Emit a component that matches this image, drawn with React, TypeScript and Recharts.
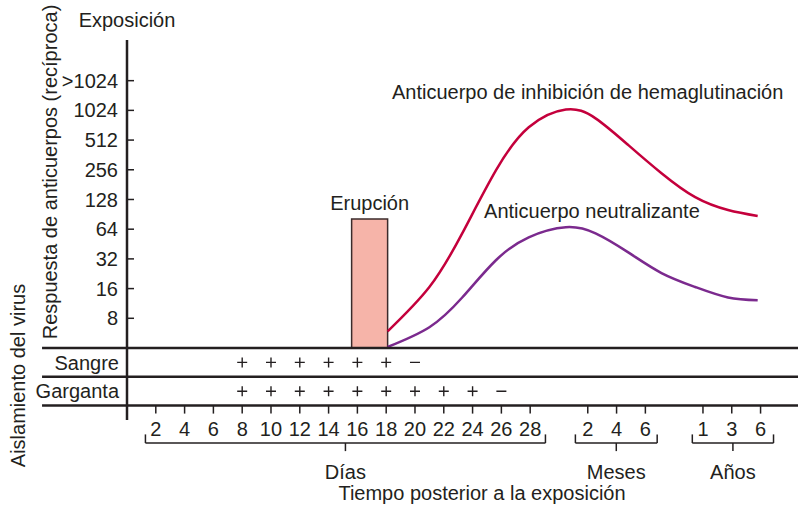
import React from "react";
import {
	ComposedChart,
	Line,
	ReferenceArea,
	ReferenceDot,
	ReferenceLine,
	Scatter,
	XAxis,
	YAxis,
} from "recharts";

const FONT = "'Liberation Sans', Arial, Helvetica, sans-serif";
const INK = "#231f20";

// x axis index: 1..14 = days 2..28, 16..18 = months 2/4/6, 20..22 = years 1/3/6
const tickPos = [1, 2, 3, 4, 5, 6, 7, 8, 9, 10, 11, 12, 13, 14, 16, 17, 18, 20, 21, 22];
const tickLabels = ["2", "4", "6", "8", "10", "12", "14", "16", "18", "20", "22", "24", "26", "28", "2", "4", "6", "1", "3", "6"];
const X_MAX = 23.3;

// titer ticks (reciprocal), log scale
const titerTicks = [8, 16, 32, 64, 128, 256, 512, 1024, 2048];
const titerLabels = ["8", "16", "32", "64", "128", "256", "512", "1024", ">1024"];

// antibody curves
const curveT = [9.05, 10.5, 11.64, 12.81, 13.95, 15.24, 16.27, 17.42, 18.56, 19.73, 20.87, 21.9];
const hemagglutinationTiter = [5.9, 16.6, 58, 252, 690, 1045, 850, 452, 236, 135, 100, 87];
const neutralizingTiter = [4.1, 6.5, 13, 31, 53, 67, 58, 37, 23, 16.6, 13, 12.2];

// rash
const rashFrom = 7.8;
const rashTo = 9.05;
const rashHeight = 81;

// virus isolation (days)
const rowNames = ["Sangre", "Garganta"];
const bloodPlusDays = [8, 10, 12, 14, 16, 18];
const bloodMinusDays = [20];
const throatPlusDays = [8, 10, 12, 14, 16, 18, 20, 22, 24];
const throatMinusDays = [26];

// time groups under the axis
const groupNames = ["Días", "Meses", "Años"];
const groupFrom = [0.64, 15.57, 19.63];
const groupTo = [14.53, 18.41, 22.45];

const curveData = curveT.map((t, i) => ({
	t,
	hi: hemagglutinationTiter[i],
	neut: neutralizingTiter[i],
}));

const marks = [
	...bloodPlusDays.map((d) => ({ t: d / 2, row: 0.5, sign: "+" })),
	...bloodMinusDays.map((d) => ({ t: d / 2, row: 0.5, sign: "-" })),
	...throatPlusDays.map((d) => ({ t: d / 2, row: 1.5, sign: "+" })),
	...throatMinusDays.map((d) => ({ t: d / 2, row: 1.5, sign: "-" })),
];

const xLabel = (v: number) => tickLabels[tickPos.indexOf(v)] ?? "";
const yLabel = (v: number) => titerLabels[titerTicks.indexOf(v)] ?? "";

const SignMark = (props: any) => {
	const { cx, cy, payload } = props;
	const d =
		payload.sign === "+"
			? `M${cx - 5},${cy}h10M${cx},${cy - 5}v10`
			: `M${cx - 5},${cy}h10`;
	return <path d={d} stroke={INK} strokeWidth={1.4} fill="none" />;
};

const textStyle = { fontSize: 20, fill: INK, fontFamily: FONT };

export default function App() {
	return (
		<div style={{ position: "absolute", left: 0, top: 0, width: 798, height: 509, background: "#fff" }}>
			<div style={{ position: "absolute", left: 0, top: 0 }}>
				<ComposedChart
					width={798}
					height={350}
					data={curveData}
					margin={{ top: 40, right: 0, bottom: 2, left: 0 }}
				>
					<XAxis dataKey="t" type="number" domain={[0, X_MAX]} allowDataOverflow hide />
					<YAxis
						type="number"
						scale="log"
						domain={[4, 5290]}
						allowDataOverflow
						ticks={titerTicks}
						tickFormatter={yLabel}
						interval={0}
						width={127}
						axisLine={{ stroke: INK, strokeWidth: 2.5 }}
						tickLine={{ stroke: INK, strokeWidth: 1.5 }}
						tickSize={-7}
						tickMargin={16}
						tick={textStyle}
						label={{
							value: "Respuesta de anticuerpos (recíproca)",
							angle: -90,
							position: "center",
							dx: -13.5,
							dy: -22,
							...textStyle,
						}}
					/>
					<ReferenceArea
						x1={rashFrom}
						x2={rashTo}
						y1={4}
						y2={rashHeight}
						fill="#f6b4a9"
						fillOpacity={1}
						stroke="#3b2b2b"
						strokeWidth={1.5}
						label={{ value: "Erupción", position: "top", offset: 9, ...textStyle }}
					/>
					<Line
						type="natural"
						dataKey="hi"
						stroke="#c4003c"
						strokeWidth={2.5}
						dot={false}
						isAnimationActive={false}
					/>
					<Line
						type="natural"
						dataKey="neut"
						stroke="#7b2a8e"
						strokeWidth={2.5}
						dot={false}
						isAnimationActive={false}
					/>
					<ReferenceDot
						x={0}
						y={5290}
						r={0}
						fill="none"
						stroke="none"
						ifOverflow="visible"
						label={{ value: "Exposición", position: "top", offset: 13.5, ...textStyle }}
					/>
					<ReferenceDot
						x={9.2}
						y={1574}
						r={0}
						fill="none"
						stroke="none"
						ifOverflow="visible"
						label={{ value: "Anticuerpo de inhibición de hemaglutinación", position: "right", offset: 0, ...textStyle }}
					/>
					<ReferenceDot
						x={12.4}
						y={97}
						r={0}
						fill="none"
						stroke="none"
						ifOverflow="visible"
						label={{ value: "Anticuerpo neutralizante", position: "right", offset: 0, ...textStyle }}
					/>
				</ComposedChart>
			</div>
			<div style={{ position: "absolute", left: 0, top: 260 }}>
				<ComposedChart width={798} height={249} margin={{ top: 88, right: 0, bottom: 0, left: 0 }}>
					<XAxis
						dataKey="t"
						type="number"
						domain={[0, X_MAX]}
						allowDataOverflow
						ticks={tickPos}
						tickFormatter={xLabel}
						interval={0}
						height={103.4}
						axisLine={false}
						tickLine={{ stroke: INK, strokeWidth: 1.5 }}
						tickSize={8}
						tickMargin={8}
						tick={textStyle}
						label={{
							value: "Tiempo posterior a la exposición",
							position: "insideBottom",
							offset: 9,
							dx: 19.5,
							...textStyle,
						}}
					/>
					<YAxis
						dataKey="row"
						type="number"
						domain={[0, 2]}
						reversed
						allowDataOverflow
						ticks={[0.5, 1.5]}
						tickFormatter={(v: number) => rowNames[Math.floor(v)]}
						interval={0}
						width={127}
						axisLine={false}
						tickLine={false}
						tickMargin={2}
						tick={textStyle}
						label={{
							value: "Aislamiento del virus",
							angle: -90,
							position: "center",
							dx: -46,
							dy: -1.3,
							...textStyle,
						}}
					/>
					{[0, 1, 2].map((y) => (
						<ReferenceLine
							key={`h${y}`}
							segment={[{ x: -2.95, y }, { x: X_MAX, y }]}
							stroke={INK}
							strokeWidth={2.5}
							ifOverflow="visible"
						/>
					))}
					<ReferenceLine
						segment={[{ x: 0, y: 0 }, { x: 0, y: 2.5 }]}
						stroke={INK}
						strokeWidth={2.5}
						ifOverflow="visible"
					/>
					{groupNames.map((name, i) => {
						const mid = (groupFrom[i] + groupTo[i]) / 2;
						return (
							<React.Fragment key={name}>
								<ReferenceLine
									segment={[{ x: groupFrom[i], y: 3.3 }, { x: groupTo[i], y: 3.3 }]}
									stroke={INK}
									strokeWidth={1.5}
									ifOverflow="visible"
								/>
								<ReferenceLine
									segment={[{ x: groupFrom[i], y: 3.0 }, { x: groupFrom[i], y: 3.3 }]}
									stroke={INK}
									strokeWidth={1.5}
									ifOverflow="visible"
								/>
								<ReferenceLine
									segment={[{ x: groupTo[i], y: 3.0 }, { x: groupTo[i], y: 3.3 }]}
									stroke={INK}
									strokeWidth={1.5}
									ifOverflow="visible"
								/>
								<ReferenceLine
									segment={[{ x: mid, y: 3.3 }, { x: mid, y: 3.58 }]}
									stroke={INK}
									strokeWidth={1.5}
									ifOverflow="visible"
									label={{ value: name, position: "bottom", offset: 14, ...textStyle }}
								/>
							</React.Fragment>
						);
					})}
					<Scatter data={marks} dataKey="row" shape={<SignMark />} isAnimationActive={false} />
				</ComposedChart>
			</div>
		</div>
	);
}
